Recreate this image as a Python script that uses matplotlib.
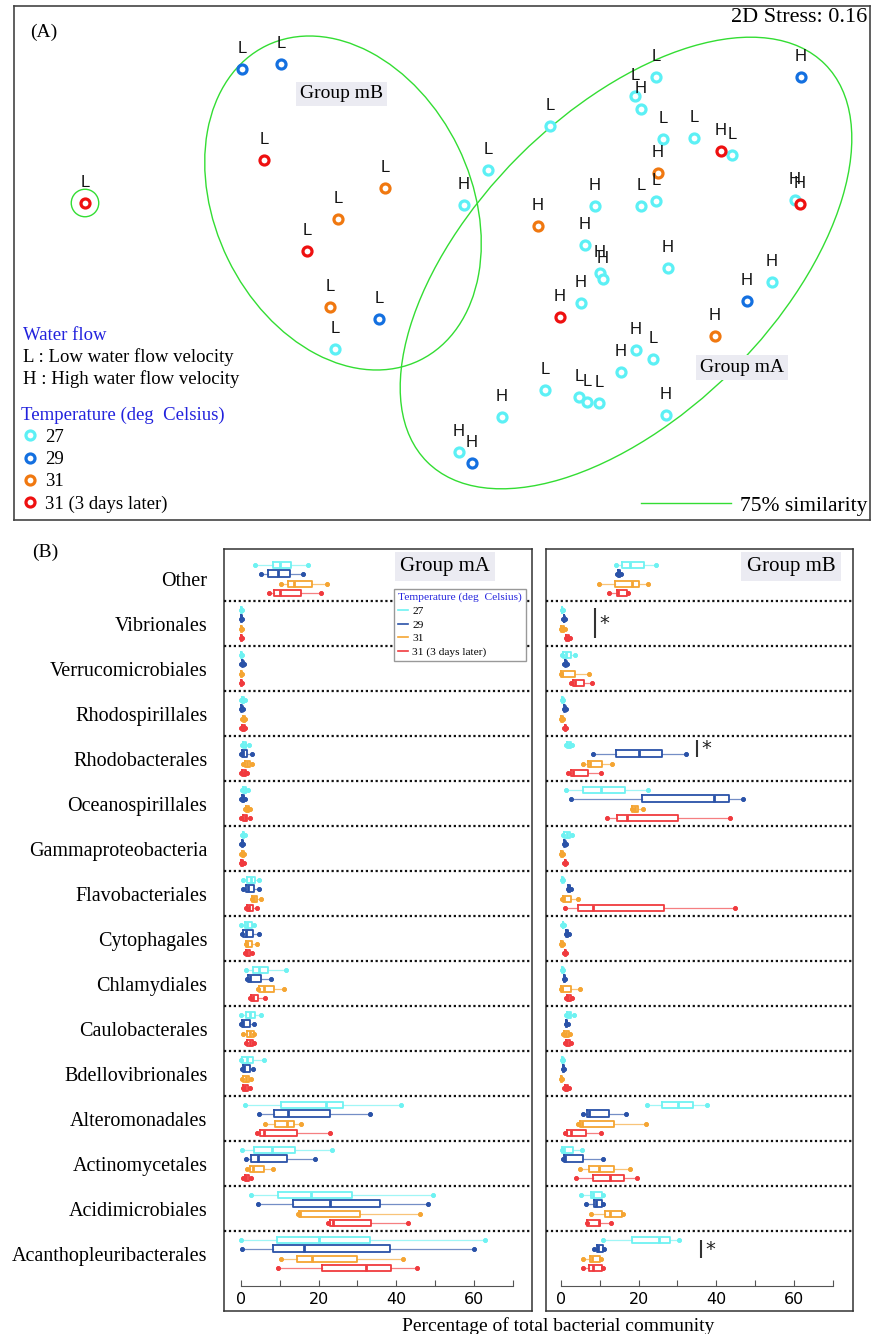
import numpy as np
import matplotlib
matplotlib.use('Agg')
import matplotlib.pyplot as plt
from matplotlib.patches import Ellipse
from matplotlib.lines import Line2D

W, H = 872, 1334
SERIF = ['Liberation Serif', 'DejaVu Serif']
SANS = ['Liberation Sans', 'DejaVu Sans']

# ---------------- panel A : NMDS ordination ----------------
nmds_x = [-1.42, -0.792, -0.636, -0.704, -0.22, -0.408, -0.532, -0.44, -0.244, -0.42,
          0.864, 0.78, 0.804, 0.44, 0.892, 1.016, 1.124, 1.168, 1.444, 0.192,
          0.096, 0.392, 0.872, 0.62, 0.804, 0.864, 1.42, 1.44, 0.58, 0.64,
          0.652, 0.912, 1.328, 1.228, 0.564, 0.48, 1.1, 0.784, 0.852, 0.724,
          0.42, 0.556, 0.588, 0.636, 0.904, 0.248, 0.076, 0.128]
nmds_y = [0.248, 0.784, 0.804, 0.42, 0.308, 0.184, 0.056, -0.168, -0.216, -0.336,
          0.752, 0.676, 0.624, 0.556, 0.504, 0.508, 0.456, 0.44, 0.752, 0.38,
          0.24, 0.156, 0.368, 0.236, 0.236, 0.256, 0.26, 0.244, 0.08, -0.032,
          -0.056, -0.012, -0.068, -0.144, -0.152, -0.208, -0.284, -0.34, -0.376, -0.428,
          -0.5, -0.528, -0.548, -0.552, -0.6, -0.608, -0.748, -0.792]
temp = ['31d', '29', '29', '31d', '31', '31', '31d', '31', '29', '27',
        '27', '27', '27', '27', '27', '27', '31d', '27', '29', '27',
        '27', '31', '31', '27', '27', '27', '27', '31d', '27', '27',
        '27', '27', '27', '29', '27', '31d', '31', '27', '27', '27',
        '27', '27', '27', '27', '27', '27', '27', '29']
flow = ['L', 'L', 'L', 'L', 'L', 'L', 'L', 'L', 'L', 'L',
        'L', 'L', 'H', 'L', 'L', 'L', 'H', 'L', 'H', 'L',
        'H', 'H', 'H', 'H', 'L', 'L', 'H', 'H', 'H', 'H',
        'H', 'H', 'H', 'H', 'H', 'H', 'H', 'H', 'L', 'H',
        'L', 'L', 'L', 'L', 'H', 'H', 'H', 'H']

temp_codes = ['27', '29', '31', '31d']
temp_labels = ['27', '29', '31', '31 (3 days later)']
temp_colors = ['#5cf0f5', '#1470e0', '#f07810', '#ee1010']

# 75% similarity contours (centre, width, height, angle)
cont_x = [0.744, -0.388, -1.42]
cont_y = [0.008, 0.248, 0.248]
cont_w = [2.25, 1.40, 0.11]
cont_h = [1.21, 1.024, 0.11]
cont_ang = [45, -64, 0]

# ---------------- panel B : boxplots ----------------
cats = ['Other', 'Vibrionales', 'Verrucomicrobiales', 'Rhodospirillales',
        'Rhodobacterales', 'Oceanospirillales', 'Gammaproteobacteria',
        'Flavobacteriales', 'Cytophagales', 'Chlamydiales', 'Caulobacterales',
        'Bdellovibrionales', 'Alteromonadales', 'Actinomycetales',
        'Acidimicrobiales', 'Acanthopleuribacterales']

# (whisker low, q1, median, q3, whisker high) per category
mA_27 = [(3.6, 8.3, 10.0, 13.0, 17.3), (0.0, 0.05, 0.1, 0.15, 0.2), (0.0, 0.05, 0.1, 0.15, 0.2),
         (0.1, 0.3, 0.5, 0.7, 0.9), (0.2, 0.5, 0.9, 1.4, 2.0), (0.3, 0.6, 0.9, 1.3, 1.7),
         (0.2, 0.4, 0.6, 0.8, 1.0), (0.4, 1.6, 2.5, 3.6, 4.7), (0.0, 1.0, 1.6, 2.8, 3.3),
         (1.2, 3.2, 4.7, 7.0, 11.5), (0.0, 1.3, 2.3, 3.6, 5.1), (0.0, 0.2, 1.5, 3.2, 6.0),
         (1.0, 10.2, 21.9, 26.2, 41.2), (0.2, 3.3, 8.1, 13.9, 23.4), (2.7, 9.4, 18.0, 28.5, 49.5),
         (0.0, 9.2, 20.2, 33.2, 62.8)]
mA_29 = [(5.1, 7.0, 9.4, 12.6, 15.9), (0.0, 0.05, 0.1, 0.15, 0.2), (0.1, 0.2, 0.4, 0.6, 0.7),
         (0.0, 0.1, 0.2, 0.3, 0.4), (0.1, 0.2, 0.6, 1.5, 2.8), (0.1, 0.2, 0.4, 0.7, 0.9),
         (0.1, 0.2, 0.3, 0.5, 0.6), (0.4, 1.3, 1.9, 3.4, 4.6), (0.2, 0.6, 1.3, 3.2, 4.6),
         (1.5, 1.9, 2.2, 5.1, 7.7), (0.0, 0.2, 0.6, 2.2, 3.3), (0.2, 0.4, 0.8, 2.2, 3.2),
         (4.7, 8.5, 12.2, 22.9, 33.2), (1.3, 2.7, 4.3, 11.8, 19.1), (4.3, 13.5, 22.9, 35.8, 48.2),
         (0.2, 8.2, 16.1, 38.4, 60.0)]
mA_31 = [(10.3, 12.0, 13.7, 18.2, 22.2), (0.0, 0.05, 0.1, 0.15, 0.2), (0.0, 0.05, 0.1, 0.15, 0.2),
         (0.3, 0.5, 0.7, 0.9, 1.1), (0.6, 1.0, 1.5, 2.2, 2.8), (1.0, 1.3, 1.6, 2.0, 2.3),
         (0.1, 0.3, 0.5, 0.7, 0.8), (2.8, 2.9, 3.4, 4.2, 5.2), (1.2, 1.3, 1.6, 2.8, 4.0),
         (4.5, 4.7, 5.8, 8.5, 11.2), (0.6, 1.5, 2.2, 3.3, 3.4), (0.2, 0.6, 1.2, 2.0, 2.7),
         (6.2, 8.8, 11.8, 13.7, 15.5), (1.6, 2.2, 3.0, 5.8, 8.2), (14.6, 14.9, 15.2, 30.6, 46.1),
         (10.3, 14.3, 18.2, 30.0, 41.8)]
mA_31d = [(7.3, 8.6, 10.1, 15.5, 20.6), (0.0, 0.05, 0.1, 0.15, 0.2), (0.0, 0.05, 0.1, 0.15, 0.2),
          (0.0, 0.2, 0.5, 0.9, 1.0), (0.0, 0.3, 0.7, 1.2, 1.5), (0.0, 0.4, 0.9, 1.6, 2.2),
          (0.0, 0.1, 0.3, 0.5, 0.7), (1.2, 1.6, 2.0, 3.2, 4.0), (1.0, 1.3, 1.6, 2.3, 2.8),
          (2.2, 2.5, 3.0, 4.5, 6.2), (1.3, 1.5, 2.3, 3.1, 3.3), (0.4, 0.6, 1.0, 1.9, 2.4),
          (4.0, 4.9, 5.8, 14.5, 22.9), (0.6, 0.9, 1.4, 2.0, 2.5), (22.5, 22.9, 23.8, 33.5, 43.1),
          (9.5, 20.8, 32.1, 38.6, 45.4)]

mB_27 = [(14.2, 15.8, 17.8, 21.5, 24.5), (0.2, 0.25, 0.3, 0.35, 0.4), (0.3, 0.4, 1.2, 2.5, 3.5),
         (0.2, 0.3, 0.4, 0.5, 0.6), (1.3, 1.6, 2.0, 2.5, 2.9), (1.2, 5.6, 10.3, 16.5, 22.3),
         (0.6, 0.8, 1.5, 2.3, 2.9), (0.3, 0.35, 0.4, 0.45, 0.5), (0.3, 0.4, 0.5, 0.6, 0.7),
         (0.3, 0.35, 0.4, 0.45, 0.5), (1.3, 1.6, 2.0, 2.6, 3.4), (0.3, 0.35, 0.4, 0.45, 0.5),
         (22.1, 26.1, 30.1, 34.1, 37.7), (0.2, 0.3, 0.9, 3.2, 5.3), (5.2, 7.7, 8.3, 10.6, 10.8),
         (10.9, 18.2, 25.2, 28.1, 30.5)]
mB_29 = [(14.3, 14.6, 14.9, 15.2, 15.5), (0.6, 0.7, 0.8, 0.9, 1.0), (0.9, 1.0, 1.2, 1.4, 1.6),
         (0.8, 0.9, 1.0, 1.1, 1.2), (8.2, 14.2, 20.1, 25.9, 32.1), (2.6, 20.9, 39.4, 43.3, 46.8),
         (0.8, 0.9, 1.0, 1.1, 1.2), (1.7, 1.9, 2.1, 2.4, 2.6), (1.2, 1.4, 1.5, 1.8, 2.0),
         (0.7, 0.8, 0.9, 1.0, 1.1), (1.2, 1.3, 1.4, 1.6, 1.7), (0.5, 0.55, 0.6, 0.65, 0.7),
         (5.7, 6.6, 7.2, 12.4, 16.7), (0.6, 0.8, 1.0, 5.6, 10.7), (6.4, 8.5, 9.1, 10.6, 10.9),
         (8.5, 9.2, 9.6, 10.7, 11.0)]
mB_31 = [(9.9, 13.9, 18.2, 20.2, 22.3), (0.0, 0.1, 0.4, 0.8, 1.0), (0.0, 0.05, 0.3, 3.5, 7.1),
         (0.0, 0.1, 0.2, 0.5, 0.6), (5.6, 6.9, 7.5, 10.6, 13.2), (18.2, 18.4, 19.0, 19.8, 21.2),
         (0.0, 0.05, 0.2, 0.4, 0.5), (0.2, 0.4, 0.9, 2.7, 4.5), (0.0, 0.1, 0.2, 0.4, 0.5),
         (0.0, 0.05, 0.2, 2.7, 4.8), (0.4, 0.8, 1.3, 2.0, 2.3), (0.0, 0.05, 0.1, 0.15, 0.2),
         (4.5, 4.9, 5.3, 13.7, 21.9), (4.9, 7.3, 9.9, 13.7, 17.9), (7.6, 11.3, 12.6, 15.6, 16.0),
         (5.6, 7.5, 7.9, 10.0, 10.2)]
mB_31d = [(12.4, 14.5, 14.8, 17.1, 17.2), (1.2, 1.4, 1.7, 2.0, 2.2), (2.7, 3.2, 3.6, 5.8, 7.9),
          (0.9, 1.0, 1.1, 1.2, 1.3), (1.9, 2.6, 3.2, 7.0, 10.3), (11.8, 14.3, 17.1, 30.2, 43.4),
          (0.9, 1.0, 1.1, 1.3, 1.4), (1.0, 4.5, 8.2, 26.6, 44.8), (0.9, 1.0, 1.1, 1.2, 1.3),
          (1.2, 1.5, 1.9, 2.5, 2.9), (1.0, 1.2, 1.5, 2.4, 2.6), (0.8, 1.0, 1.2, 1.7, 2.1),
          (1.0, 1.5, 2.5, 6.4, 10.2), (3.8, 8.2, 12.6, 16.1, 19.5), (6.6, 6.7, 9.9, 10.1, 13.0),
          (5.6, 7.3, 8.3, 10.5, 10.8)]

# significance marks in group mB (category index, x position)
sig_cat = [1, 4, 15]
sig_x = [8.8, 35.0, 36.0]

box_colors = ['#6ef2f2', '#2a52a8', '#f5a532', '#f03a3e']
offsets = [-0.3, -0.11, 0.12, 0.32]


fig = plt.figure(figsize=(W / 100, H / 100), dpi=100)


def px_axes(x0, y0, x1, y1, **kw):
    return fig.add_axes([x0 / W, 1 - y1 / H, (x1 - x0) / W, (y1 - y0) / H], **kw)


# ======== panel A ========
axA = px_axes(14, 6, 870, 520)
axA.set_xlim(-1.704, 1.72)
axA.set_ylim(-1.02, 1.036)
axA.set_xticks([])
axA.set_yticks([])
for s in axA.spines.values():
    s.set_color('#444444')
    s.set_linewidth(1.2)

for cx, cy, w, h, a in zip(cont_x, cont_y, cont_w, cont_h, cont_ang):
    axA.add_patch(Ellipse((cx, cy), w, h, angle=a, fill=False,
                          edgecolor='#33dd33', lw=1.0, zorder=1))

tx = np.array(nmds_x)
ty = np.array(nmds_y)
tt = np.array(temp)
for code, col in zip(temp_codes, temp_colors):
    m = tt == code
    axA.plot(tx[m], ty[m], 'o', ls='none', mfc='white', mec=col, ms=6.5, mew=2.3, zorder=3)

for x, y, f in zip(nmds_x, nmds_y, flow):
    axA.annotate(f, (x, y), xytext=(0, 14.5), textcoords='offset points',
                 ha='center', va='center', fontsize=12, family=SANS, color='#111111')

axA.text(0.035, 0.949, '(A)', transform=axA.transAxes, ha='center', va='center',
         fontsize=14, family=SERIF)
axA.text(0.9965, 0.977, '2D Stress: 0.16', transform=axA.transAxes, ha='right',
         va='center', fontsize=16, family=SERIF)
grp_box = dict(boxstyle='square,pad=0.2', facecolor='#ebebf2', edgecolor='none')
axA.text(0.383, 0.829, 'Group mB', transform=axA.transAxes, ha='center', va='center',
         fontsize=14, family=SERIF, bbox=grp_box)
axA.text(0.850, 0.296, 'Group mA', transform=axA.transAxes, ha='center', va='center',
         fontsize=14, family=SERIF, bbox=grp_box)

axA.text(0.0105, 0.358, 'Water flow', transform=axA.transAxes, va='center',
         fontsize=13.5, family=SERIF, color='#2222dd')
axA.text(0.0105, 0.317, 'L : Low water flow velocity', transform=axA.transAxes,
         va='center', fontsize=13.5, family=SERIF)
axA.text(0.0105, 0.274, 'H : High water flow velocity', transform=axA.transAxes,
         va='center', fontsize=13.5, family=SERIF)

handles = [Line2D([], [], marker='o', ls='none', mfc='white', mec=c, ms=6.5, mew=2.3)
           for c in temp_colors]
legT = axA.legend(handles, temp_labels, title='Temperature (deg  Celsius)',
                  loc='upper left', bbox_to_anchor=(0.008, 0.221), frameon=False,
                  prop={'family': SERIF, 'size': 13.5}, title_fontproperties={'family': SERIF, 'size': 13.5},
                  alignment='left', borderpad=0, borderaxespad=0, handlelength=1.0,
                  handletextpad=0.3, labelspacing=0.27)
legT.get_title().set_color('#2222dd')
axA.add_artist(legT)

sim = axA.legend([Line2D([], [], color='#33dd33', lw=1.0)], ['75% similarity'],
                 loc='lower right', bbox_to_anchor=(0.997, 0.008), frameon=False,
                 prop={'family': SERIF, 'size': 15.5}, handlelength=4.2,
                 handletextpad=0.4, borderpad=0, borderaxespad=0)

# ======== panel B ========
fig.text(45 / W, 1 - 552 / H, '(B)', ha='center', va='center', fontsize=14, family=SERIF)
fig.text(558 / W, 1 - 1317 / H, 'Percentage of total bacterial community', ha='center',
         va='top', fontsize=14, family=SERIF)


def draw_panel(frame_px, xlim, series, label, label_xy, show_cats):
    x0, y0, x1, y1 = frame_px
    fr = px_axes(x0, y0, x1, y1)
    fr.set_xticks([])
    fr.set_yticks([])
    for s in fr.spines.values():
        s.set_color('#333333')
        s.set_linewidth(1.1)

    ax = px_axes(x0, 549, x1, 1286)
    ax.patch.set_alpha(0)
    ax.set_xlim(*xlim)
    ax.set_ylim(15.72, -0.656)
    for k in ['top', 'left', 'right']:
        ax.spines[k].set_visible(False)
    ax.spines['bottom'].set_bounds(0, 70)
    ax.spines['bottom'].set_color('#555555')
    ax.set_xticks(range(0, 71, 10))
    ax.set_xticklabels(['0', '', '20', '', '40', '', '60', ''])
    ax.tick_params(axis='x', direction='in', length=4, color='#555555', labelsize=11.5, pad=4)
    for t in ax.get_xticklabels():
        t.set_family(['DejaVu Sans'])

    pos = np.arange(len(cats))
    if show_cats:
        ax.set_yticks(pos)
        ax.set_yticklabels(cats, fontsize=14.5, family=SERIF)
        ax.tick_params(axis='y', length=0, pad=12)
    else:
        ax.set_yticks([])

    for y in pos[:-1] + 0.5:
        ax.axhline(y, color='#111111', ls=(0, (1, 1.2)), lw=1.6, zorder=1)

    for vals, off, c in zip(series, offsets, box_colors):
        stats = [dict(whislo=v[0], q1=v[1], med=v[2], q3=v[3], whishi=v[4], fliers=[])
                 for v in vals]
        ax.bxp(stats, positions=pos + off, widths=0.15, orientation='horizontal',
               showfliers=False, manage_ticks=False, capwidths=0.001,
               boxprops=dict(color=c, lw=1.3),
               whiskerprops=dict(color=c, lw=0.9, alpha=0.65),
               capprops=dict(color=c, lw=0, marker='o', ms=2.4, mfc=c, mec=c),
               medianprops=dict(color=c, lw=2.0), zorder=3)

    ax.text(label_xy[0], label_xy[1], label, transform=ax.transAxes, ha='center',
            va='center', fontsize=15, family=SERIF,
            bbox=dict(boxstyle='square,pad=0.25', facecolor='#ebebf2', edgecolor='none'))
    return ax


axL = draw_panel((224, 549, 532, 1311), (-4.38, 74.94),
                 [mA_27, mA_29, mA_31, mA_31d], 'Group mA', (0.718, 0.976), True)
axR = draw_panel((546, 549, 853, 1311), (-3.86, 75.2),
                 [mB_27, mB_29, mB_31, mB_31d], 'Group mB', (0.798, 0.976), False)

leg_handles = [Line2D([], [], color=c, lw=1.2) for c in box_colors]
legB = axL.legend(leg_handles, temp_labels, title='Temperature (deg  Celsius)',
                  loc='upper right', bbox_to_anchor=(0.981, 0.946),
                  prop={'family': SERIF, 'size': 8.2},
                  title_fontproperties={'family': SERIF, 'size': 8.2},
                  alignment='left', fancybox=False, edgecolor='#999999', framealpha=1,
                  borderpad=0.35, handlelength=0.8, handletextpad=0.4, labelspacing=0.32,
                  borderaxespad=0)
legB.get_title().set_color('#2222dd')
legB.get_frame().set_linewidth(1.0)

# significance bars
sig_lo = [-0.34, -0.41, -0.3]
sig_hi = [0.32, -0.03, 0.1]
sc = np.array(sig_cat)
axR.vlines(sig_x, sc + np.array(sig_lo), sc + np.array(sig_hi), color='#333333', lw=1.5, zorder=4)
for c, x, lo, hi in zip(sig_cat, sig_x, sig_lo, sig_hi):
    axR.text(x + 1.2, c + (lo + hi) / 2, '*', ha='left', va='center', fontsize=14,
             family=['DejaVu Sans'], color='#222222')

fig.savefig('out.png', dpi=100)
